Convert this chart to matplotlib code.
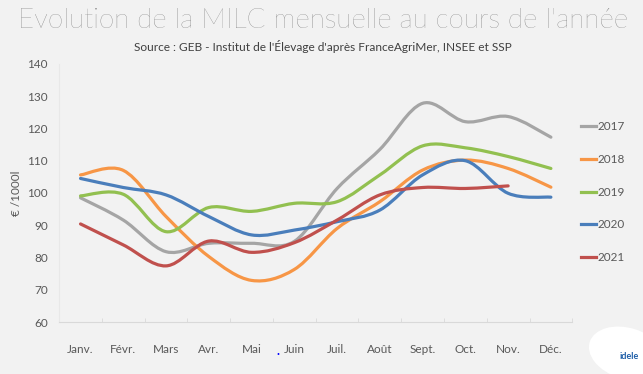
import matplotlib.pyplot as plt
import numpy as np
from matplotlib.path import Path
from matplotlib.patches import PathPatch, Ellipse
from matplotlib.lines import Line2D

plt.rcParams['font.family'] = ['Lato', 'DejaVu Sans']

months = ['Janv.', 'Févr.', 'Mars', 'Avr.', 'Mai', 'Juin', 'Juil.', 'Août',
          'Sept.', 'Oct.', 'Nov.', 'Déc.']

y2017 = [98.5, 91.6, 81.8, 84.4, 84.4, 85.0, 101.4, 113.5, 127.8, 122.1, 123.7, 117.3]
y2018 = [105.6, 107.0, 92.7, 80.3, 72.9, 76.3, 89.0, 97.3, 107.1, 110.2, 107.6, 101.8]
y2019 = [99.1, 99.6, 88.0, 95.5, 94.3, 96.8, 97.3, 105.6, 114.6, 114.0, 111.3, 107.6]
y2020 = [104.5, 101.7, 99.4, 92.7, 87.0, 88.5, 91.1, 94.7, 105.6, 110.0, 99.9, 98.7]
y2021 = [90.4, 83.9, 77.4, 85.1, 81.6, 84.6, 91.6, 99.4, 101.7, 101.4, 102.2]

series = [('2017', y2017, '#a5a5a5'),
          ('2018', y2018, '#f79646'),
          ('2019', y2019, '#92c050'),
          ('2020', y2020, '#4a7ebb'),
          ('2021', y2021, '#c0504d')]

BG = '#f2f2f2'
TXT = '#595959'


def smooth_path(xs, ys):
    # Excel-like smoothed line: cubic bezier through each point
    p = np.column_stack([xs, ys])
    n = len(p)
    verts = [p[0]]
    codes = [Path.MOVETO]
    for i in range(n - 1):
        p0 = p[i - 1] if i > 0 else p[i]
        p3 = p[i + 2] if i + 2 < n else p[i + 1]
        c1 = p[i] + (p[i + 1] - p0) / 6.0
        c2 = p[i + 1] - (p3 - p[i]) / 6.0
        verts += [c1, c2, p[i + 1]]
        codes += [Path.CURVE4] * 3
    return Path(verts, codes)


fig = plt.figure(figsize=(6.43, 3.74), dpi=100, facecolor=BG)
ax = fig.add_axes([0.092, 0.139, 0.798, 0.690], facecolor=BG)

for name, vals, col in series:
    x = np.arange(len(vals))
    ax.add_patch(PathPatch(smooth_path(x, vals), fill=False, edgecolor=col,
                           lw=2.3, capstyle='round', joinstyle='round'))

ax.set_xlim(-0.5, 11.5)
ax.set_ylim(60, 140)
ax.set_yticks(np.arange(60, 141, 10))
ax.set_xticks(np.arange(12))
ax.set_xticklabels(months)
ax.set_xticks(np.arange(-0.5, 12, 1), minor=True)
ax.tick_params(axis='x', which='major', length=0, pad=16, labelsize=8.5, labelcolor=TXT)
ax.tick_params(axis='x', which='minor', length=3, color='#d9d9d9', direction='in')
ax.tick_params(axis='y', length=0, pad=8, labelsize=8.5, labelcolor=TXT)
for s in ['top', 'right']:
    ax.spines[s].set_visible(False)
ax.spines['bottom'].set_color('#d9d9d9')
ax.spines['left'].set_color('#e8e8e8')
ax.set_ylabel('€ /1000l', color=TXT, fontsize=8.5)
ax.yaxis.set_label_coords(-0.072, 0.5)

handles = [Line2D([], [], color=c, lw=2.3) for _, _, c in series]
leg = fig.legend(handles, [n for n, _, _ in series], loc='upper left',
                 bbox_to_anchor=(0.887, 0.705), frameon=False, fontsize=8.5,
                 handlelength=1.3, handletextpad=0.1, labelspacing=1.85,
                 labelcolor=TXT)

fig.text(0.502, 0.945, "Evolution de la MILC mensuelle au cours de l'année",
         ha='center', va='center', fontsize=20, color='#6f6f6f', fontweight='light')
fig.text(0.502, 0.877, "Source : GEB - Institut de l'Élevage d'après FranceAgriMer, INSEE et SSP",
         ha='center', va='center', fontsize=8.6, color='#404040')

# small logo blob in the corner
fig.patches.append(Ellipse((0.975, 0.055), 0.11, 0.15, angle=25, transform=fig.transFigure,
                           facecolor='white', edgecolor='none'))
fig.text(0.978, 0.048, 'idele', ha='center', va='center', fontsize=6.5,
         color='#1f5fa8', fontweight='bold')
fig.text(0.432, 0.062, '.', ha='center', va='center', fontsize=9,
         color='#0000ff', fontweight='bold')

fig.savefig('out.png', dpi=100, facecolor=BG)
